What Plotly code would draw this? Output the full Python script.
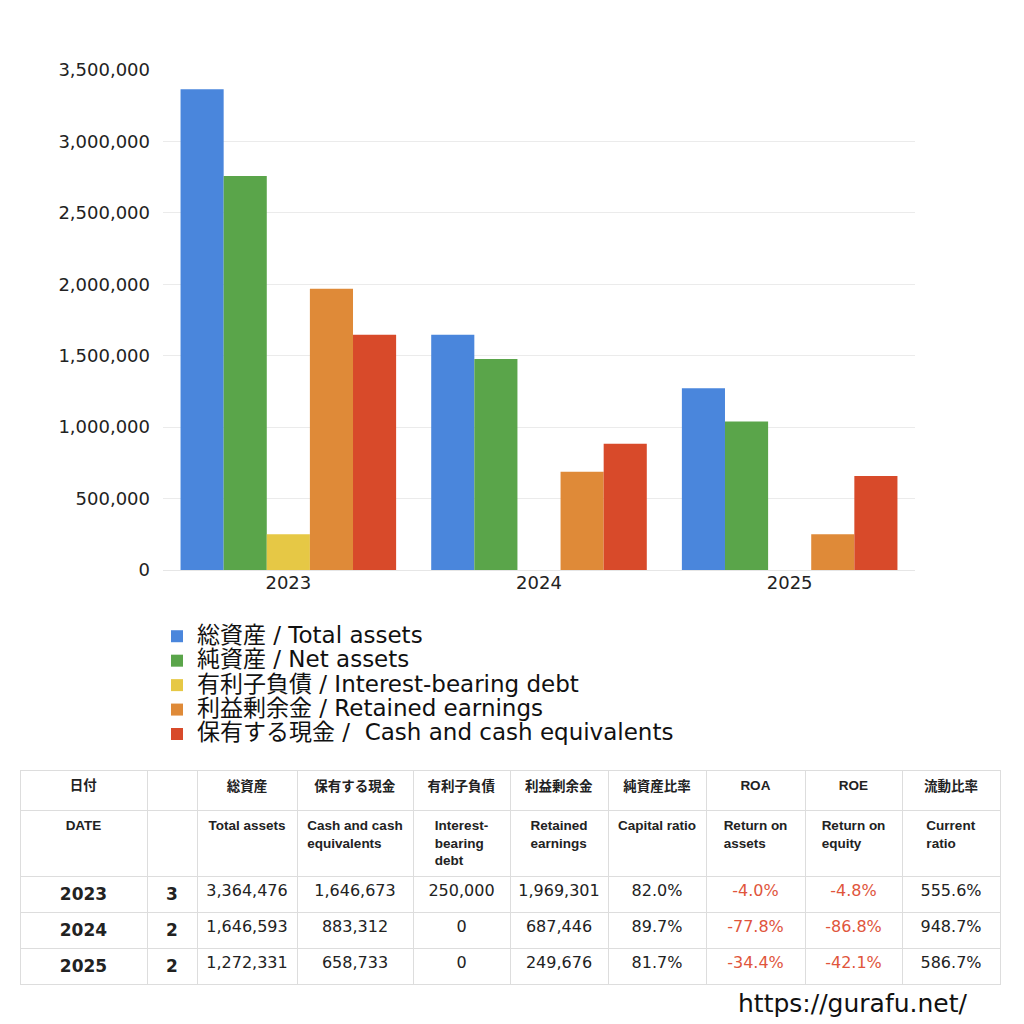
import plotly.graph_objects as go

# ---- data ----
years = ["2023", "2024", "2025"]
total_assets = [3364476, 1646593, 1272331]
net_assets = [2758870, 1477000, 1039500]
interest_debt = [250000, 0, 0]
retained = [1969301, 687446, 249676]
cash = [1646673, 883312, 658733]

series_names = [
    "総資産 / Total assets",
    "純資産 / Net assets",
    "有利子負債 / Interest-bearing debt",
    "利益剰余金 / Retained earnings",
    "保有する現金 /  Cash and cash equivalents",
]
series_colors = ["#4a86dc", "#5aa54a", "#e6c845", "#df8a38", "#d84a2a"]

# table data
t_months = [3, 2, 2]
t_capital_ratio = ["82.0%", "89.7%", "81.7%"]
t_roa = ["-4.0%", "-77.8%", "-34.4%"]
t_roe = ["-4.8%", "-86.8%", "-42.1%"]
t_current = ["555.6%", "948.7%", "586.7%"]

header_jp = ["日付", "", "総資産", "保有する現金", "有利子負債", "利益剰余金", "純資産比率", "ROA", "ROE", "流動比率"]
header_en = ["DATE", "", "Total assets", "Cash and cash<br>equivalents", "Interest-<br>bearing<br>debt",
             "Retained<br>earnings", "Capital ratio", "Return on<br>assets", "Return on<br>equity", "Current<br>ratio"]

WIDE = "DejaVu Sans, Noto Sans CJK JP, sans-serif"
HEAD = "Liberation Sans, Noto Sans CJK JP, sans-serif"
W = H = 1024

fig = go.Figure()
for name, vals, col in zip(series_names,
                           [total_assets, net_assets, interest_debt, retained, cash],
                           series_colors):
    fig.add_trace(go.Bar(x=years, y=vals,
                         name='<span style="font-size:23px">' + name + '</span>',
                         marker=dict(color=col, line=dict(width=0))))

fmt = lambda v: f"{v:,}"
cells = [
    ["<b>" + y + "</b>" for y in years],
    ["<b>" + str(m) + "</b>" for m in t_months],
    [fmt(v) for v in total_assets],
    [fmt(v) for v in cash],
    [fmt(v) for v in interest_debt],
    [fmt(v) for v in retained],
    t_capital_ratio,
    t_roa,
    t_roe,
    t_current,
]
colw = [127, 50, 100, 116, 97, 98, 98, 99, 97, 98]
red = "#e0553c"
dark = "#222222"

header_vals = [["<b>" + a + "</b>" if a else "", "<b>" + b + "</b>" if b else ""]
               for a, b in zip(header_jp, header_en)]

fig.add_trace(go.Table(
    domain=dict(x=[20 / W, 1000 / W], y=[14 / H, 1 - 770 / H]),
    columnwidth=colw,
    header=dict(
        values=header_vals,
        align="center",
        height=40,
        fill=dict(color="white"),
        line=dict(color="#dddddd", width=1),
        font=dict(family=HEAD, size=13.5, color="#222222"),
    ),
    cells=dict(
        values=cells,
        align="center",
        height=34,
        fill=dict(color="white"),
        line=dict(color="#dddddd", width=1),
        font=dict(family=WIDE,
                  size=[17, 17] + [16] * 8,
                  color=[dark, dark, dark, dark, dark, dark, dark, red, red, dark]),
    ),
))

fig.add_annotation(text="https://gurafu.net/", xref="paper", yref="paper",
                   x=970 / W, y=1 - 1003 / H, xanchor="right", yanchor="middle",
                   showarrow=False, font=dict(family=WIDE, size=25, color="#111111"))

fig.update_layout(
    width=W, height=H,
    margin=dict(l=0, r=0, t=0, b=0, autoexpand=False),
    paper_bgcolor="white", plot_bgcolor="white",
    font=dict(family=WIDE, color="#333333"),
    barmode="group",
    bargap=0.14, bargroupgap=0,
    xaxis=dict(domain=[163 / W, 915 / W], showline=False, ticks="", automargin=False,
               tickfont=dict(size=18, color="#222222"), anchor="y"),
    yaxis=dict(domain=[1 - 570 / H, 1 - 70 / H], range=[0, 3500000], dtick=500000,
               tickformat=",d", showgrid=True, gridcolor="#ebebeb", zeroline=True,
               zerolinecolor="#e6e6e6", zerolinewidth=1, automargin=False,
               tickfont=dict(size=18, color="#222222"), ticklabelstandoff=12),
    legend=dict(x=157 / W, y=1 - 619 / H, xanchor="left", yanchor="top",
                orientation="v", font=dict(family=WIDE, size=16.5, color="#111111"),
                tracegroupgap=0, itemwidth=30, bgcolor="rgba(0,0,0,0)"),
    showlegend=True,
)

fig.write_html("out.html", config={"displayModeBar": False},
               post_script="document.body.style.margin='0';document.body.style.overflow='hidden';")
